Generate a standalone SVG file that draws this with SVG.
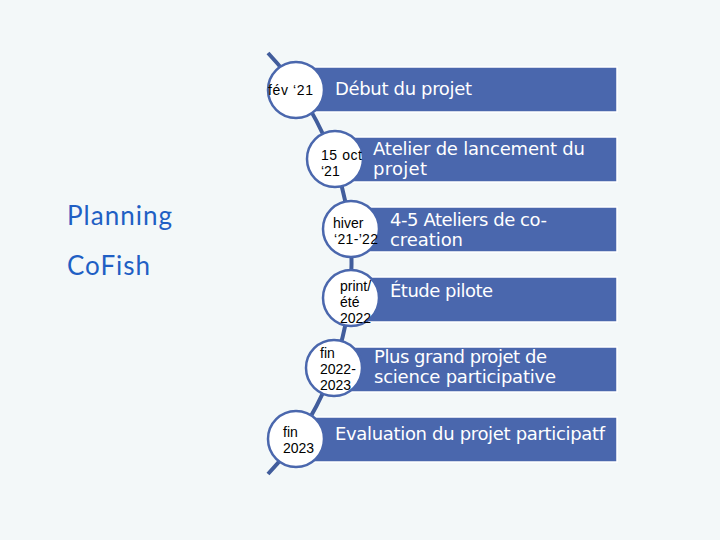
<svg xmlns="http://www.w3.org/2000/svg" width="720" height="540" viewBox="0 0 720 540">
<style>
.bar{fill:#4a67ad;stroke:#ffffff;stroke-width:1.5}
.dot{fill:#ffffff;stroke:#4a67ad;stroke-width:2.5}
.lbl{font-family:"DejaVu Sans",sans-serif;font-size:18px;fill:#ffffff}
.date{font-family:"Liberation Sans",Arial,sans-serif;font-size:14px;fill:#000000}
.title{font-family:Lato,"Open Sans",sans-serif;font-size:26px;fill:#1f5fc4}
</style>
<rect width="720" height="540" fill="#f3f8f9"/>
<g id="title">
<text class="title" x="67" y="225" textLength="105">Planning</text>
<text class="title" x="67" y="275" textLength="83">CoFish</text>
</g>
<g id="connectors">
<path d="M 268 53 A 307 307 0 0 1 268 474" fill="none" stroke="#415d9c" stroke-width="4"/>
</g>
<g id="step1">
<rect class="bar" x="296" y="67" width="321" height="45"/>
<circle class="dot" cx="296" cy="90" r="28"/>
<text class="date" x="268" y="95" textLength="45">fév ‘21</text>
<text class="lbl" x="335" y="95" textLength="137">Début du projet</text>
</g>
<g id="step2">
<rect class="bar" x="335" y="137" width="282" height="45"/>
<circle class="dot" cx="335" cy="159" r="28"/>
<text class="date" x="321" y="160" textLength="41">15 oct</text>
<text class="date" x="321" y="176">‘21</text>
<text class="lbl" x="373" y="155" textLength="212">Atelier de lancement du</text>
<text class="lbl" x="373" y="175" textLength="54">projet</text>
</g>
<g id="step3">
<rect class="bar" x="351" y="207" width="266" height="45"/>
<circle class="dot" cx="351" cy="229" r="28"/>
<text class="date" x="333" y="228">hiver</text>
<text class="date" x="334" y="244" textLength="44">‘21-’22</text>
<text class="lbl" x="390" y="226" textLength="157">4-5 Ateliers de co-</text>
<text class="lbl" x="390" y="246" textLength="73">creation</text>
</g>
<g id="step4">
<rect class="bar" x="351" y="277" width="266" height="45"/>
<circle class="dot" cx="351" cy="298" r="28"/>
<text class="date" x="340" y="291">print/</text>
<text class="date" x="340" y="307">été</text>
<text class="date" x="340" y="323">2022</text>
<text class="lbl" x="390" y="297" textLength="103">Étude pilote</text>
</g>
<g id="step5">
<rect class="bar" x="334" y="347" width="283" height="45"/>
<circle class="dot" cx="334" cy="368" r="28"/>
<text class="date" x="320" y="358">fin</text>
<text class="date" x="320" y="374">2022-</text>
<text class="date" x="320" y="390">2023</text>
<text class="lbl" x="374" y="363" textLength="173">Plus grand projet de</text>
<text class="lbl" x="374" y="383" textLength="182">science participative</text>
</g>
<g id="step6">
<rect class="bar" x="296" y="417" width="321" height="45"/>
<circle class="dot" cx="296" cy="439" r="28"/>
<text class="date" x="283" y="437">fin</text>
<text class="date" x="283" y="453">2023</text>
<text class="lbl" x="335" y="440" textLength="270">Evaluation du projet participatf</text>
</g>
</svg>
